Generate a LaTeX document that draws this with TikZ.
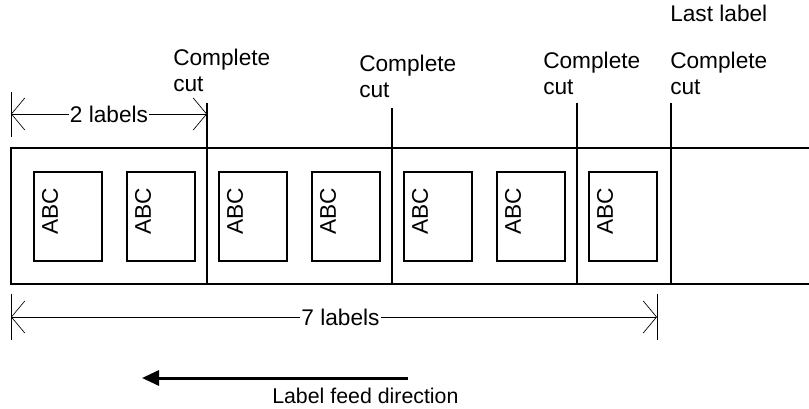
\documentclass[tikz,border=0pt]{standalone}
\usepackage{fontspec}
\setmainfont{Liberation Sans}
\usetikzlibrary{arrows.meta}

\begin{document}
\begin{tikzpicture}[x=0.75pt, y=-0.75pt,
    font=\fontsize{17}{19.5}\selectfont,
    labelbox/.style={draw, line width=1.5pt, minimum width=51pt, minimum height=66.5pt, inner sep=0pt},
    abc/.style={rotate=90, inner sep=0pt},
    cutline/.style={line width=0.9pt},
    note/.style={align=left, anchor=base west, inner sep=0pt},
    extline/.style={line width=0.5pt},
    dim/.style={line width=0.5pt, {Straight Barb[length=10pt, width=24pt]}-{Straight Barb[length=10pt, width=24pt]}},
    dimtext/.style={fill=white, inner sep=1pt},
    feed/.style={line width=2.25pt, -{Triangle[length=12.75pt, width=11.25pt]}}]
    \useasboundingbox (0,0) rectangle (809,409);
    % label strip
    \draw[line width=1.5pt] (809,148) -- (11,148) -- (11,284) -- (809,284);
    % label nodes
    \node[labelbox] (l1) at (68,216.5) {};
    \node[labelbox] (l2) at (161,216.5) {};
    \node[labelbox] (l3) at (253,216.5) {};
    \node[labelbox] (l4) at (346,216.5) {};
    \node[labelbox] (l5) at (438,216.5) {};
    \node[labelbox] (l6) at (531,216.5) {};
    \node[labelbox] (l7) at (622.5,216.5) {};
    % printed text
    \node[abc] (t1) at (50,211) {ABC};
    \node[abc] (t2) at (143,211) {ABC};
    \node[abc] (t3) at (235,211) {ABC};
    \node[abc] (t4) at (328,211) {ABC};
    \node[abc] (t5) at (420,211) {ABC};
    \node[abc] (t6) at (513,211) {ABC};
    \node[abc] (t7) at (605,211) {ABC};
    % cut positions
    \coordinate (c1t) at (207,103);
    \coordinate (c1b) at (207,284);
    \coordinate (c2t) at (392,108);
    \coordinate (c2b) at (392,284);
    \coordinate (c3t) at (577,103);
    \coordinate (c3b) at (577,284);
    \coordinate (c4t) at (671,103);
    \coordinate (c4b) at (671,284);
    \draw[cutline] (c1t) -- (c1b);
    \draw[cutline] (c2t) -- (c2b);
    \draw[cutline] (c3t) -- (c3b);
    \draw[line width=1.3pt] (c4t) -- (c4b);
    % cut notes (base is the last line)
    \node[note] (k1) at (173,92) {Complete\\cut};
    \node[note] (k2) at (359,98) {Complete\\cut};
    \node[note] (k3) at (543,95) {Complete\\cut};
    \node[note] (k4) at (670,95) {Complete\\cut};
    \node[note] (last) at (670,22) {Last label};
    % 2 labels dimension
    \coordinate (e1t) at (11,92);
    \coordinate (e1b) at (11,137);
    \coordinate (d1a) at (11,114);
    \coordinate (d1b) at (207,114);
    \draw[extline] (e1t) -- (e1b);
    \draw[dim] (d1a) -- node[dimtext] (two) {2 labels} (d1b);
    % 7 labels dimension
    \coordinate (e2t) at (11,294);
    \coordinate (e2b) at (11,340);
    \coordinate (e3t) at (657,294);
    \coordinate (e3b) at (657,340);
    \coordinate (d2a) at (11,317);
    \coordinate (d2b) at (657,317);
    \draw[extline] (e2t) -- (e2b);
    \draw[extline] (e3t) -- (e3b);
    \draw[dim] (d2a) -- node[dimtext, pos=0.51] (seven) {7 labels} (d2b);
    % feed direction
    \coordinate (ft) at (408,378);
    \coordinate (fh) at (142,378);
    \draw[feed] (ft) -- (fh);
    \node[anchor=base west, inner sep=0pt, font=\fontsize{16}{19}\selectfont] (dir) at (272,403) {Label feed direction};
\end{tikzpicture}
\end{document}
